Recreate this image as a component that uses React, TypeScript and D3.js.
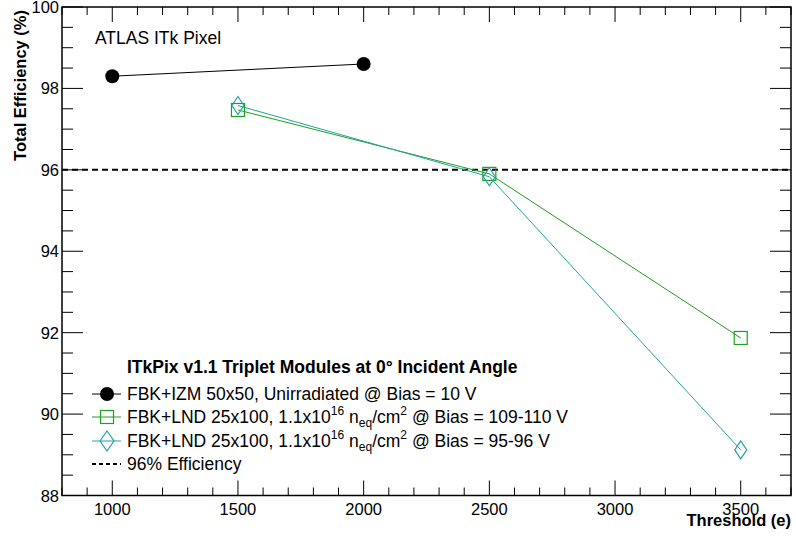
import React from "react";
import * as d3 from "d3";

const izmX = [1000, 2000];
const izmY = [98.3, 98.6];
const lnd110X = [1500, 2500, 3500];
const lnd110Y = [97.47, 95.9, 91.87];
const lnd96X = [1500, 2500, 3500];
const lnd96Y = [97.58, 95.83, 89.12];
const xTicks = [1000, 1500, 2000, 2500, 3000, 3500];
const yTicks = [88, 90, 92, 94, 96, 98, 100];
const refLine = 96;

const W = 796, H = 538;
const L = 62, R = 791, T = 7, B = 495.5;
const FONT = "Liberation Sans, Arial, Helvetica, sans-serif";
const GREEN = "#1f9f1f";
const CYAN = "#20a2a6";

export default function App() {
  const x = d3.scaleLinear().domain([800, 3700]).range([L, R]);
  const y = d3.scaleLinear().domain([88, 100]).range([B, T]);
  const line = d3.line<[number, number]>().x(d => x(d[0])).y(d => y(d[1]));
  const xMinor = d3.range(800, 3701, 100);
  const yMinor = d3.range(88, 100.01, 0.5);
  const diamond = (cx: number, cy: number, w = 6, h = 9) =>
    `M${cx},${cy - h}L${cx + w},${cy}L${cx},${cy + h}L${cx - w},${cy}Z`;

  const legX = 92, legMid = 107, legEnd = 121, legText = 127;
  const legRows = [394, 417, 441, 464];
  const LF = 17.5;

  return (
    <svg width={W} height={H} style={{ position: "absolute", left: 0, top: 0, background: "#fff" }} fontFamily={FONT}>
      <rect x={0} y={0} width={W} height={H} fill="#fff" />
      {/* ticks */}
      {xMinor.map(v => {
        const major = v % 500 === 0;
        const len = major ? 15 : 8;
        return (
          <g key={"xt" + v} stroke="#000" strokeWidth={1}>
            <line x1={x(v)} x2={x(v)} y1={B} y2={B - len} />
            <line x1={x(v)} x2={x(v)} y1={T} y2={T + len} />
          </g>
        );
      })}
      {yMinor.map(v => {
        const major = Math.abs(v % 2) < 1e-6;
        const len = major ? 21 : 11;
        return (
          <g key={"yt" + v} stroke="#000" strokeWidth={1}>
            <line x1={L} x2={L + len} y1={y(v)} y2={y(v)} />
            <line x1={R} x2={R - len} y1={y(v)} y2={y(v)} />
          </g>
        );
      })}
      {/* reference line */}
      <line x1={L} x2={R} y1={y(refLine)} y2={y(refLine)} stroke="#000" strokeWidth={2} strokeDasharray="6,4" />
      {/* series lines */}
      <path d={line(izmX.map((v, i) => [v, izmY[i]]) as any) || ""} fill="none" stroke="#000" strokeWidth={1} />
      <path d={line(lnd110X.map((v, i) => [v, lnd110Y[i]]) as any) || ""} fill="none" stroke={GREEN} strokeWidth={1} />
      <path d={line(lnd96X.map((v, i) => [v, lnd96Y[i]]) as any) || ""} fill="none" stroke={CYAN} strokeWidth={1} />
      {/* markers */}
      {izmX.map((v, i) => (
        <circle key={"c" + i} cx={x(v)} cy={y(izmY[i])} r={7} fill="#000" />
      ))}
      {lnd110X.map((v, i) => (
        <rect key={"s" + i} x={x(v) - 6.5} y={y(lnd110Y[i]) - 6.5} width={13} height={13} fill="none" stroke={GREEN} strokeWidth={1.2} />
      ))}
      {lnd96X.map((v, i) => (
        <path key={"d" + i} d={diamond(x(v), y(lnd96Y[i]))} fill="none" stroke={CYAN} strokeWidth={1.2} />
      ))}
      {/* frame */}
      <rect x={L} y={T} width={R - L} height={B - T} fill="none" stroke="#000" strokeWidth={1.5} />
      {/* tick labels */}
      {xTicks.map(v => (
        <text key={"xl" + v} x={x(v)} y={B + 19} fontSize={16.5} textAnchor="middle">{v}</text>
      ))}
      {yTicks.map(v => (
        <text key={"yl" + v} x={L - 3} y={y(v) + 6} fontSize={16.5} textAnchor="end">{v}</text>
      ))}
      {/* axis titles */}
      <text x={R} y={526} fontSize={16.5} fontWeight="bold" textAnchor="end">Threshold (e)</text>
      <text transform={`translate(26,${T + 3}) rotate(-90)`} fontSize={16.5} fontWeight="bold" textAnchor="end">Total Efficiency (%)</text>
      {/* ATLAS label */}
      <text x={95} y={44} fontSize={LF}>ATLAS ITk Pixel</text>
      {/* legend */}
      <text x={legText} y={373} fontSize={LF} fontWeight="bold">ITkPix v1.1 Triplet Modules at 0° Incident Angle</text>
      <line x1={legX} x2={legEnd} y1={legRows[0]} y2={legRows[0]} stroke="#000" />
      <circle cx={legMid} cy={legRows[0]} r={7} fill="#000" />
      <text x={legText} y={legRows[0] + 6} fontSize={LF}>FBK+IZM 50x50, Unirradiated @ Bias = 10 V</text>
      <line x1={legX} x2={legEnd} y1={legRows[1]} y2={legRows[1]} stroke={GREEN} />
      <rect x={legMid - 6.5} y={legRows[1] - 6.5} width={13} height={13} fill="none" stroke={GREEN} strokeWidth={1.2} />
      <text x={legText} y={legRows[1] + 6} fontSize={LF}>
        FBK+LND 25x100, 1.1x10<tspan dy={-8} fontSize={12}>16</tspan>
        <tspan dy={8}> n</tspan><tspan dy={4} fontSize={12}>eq</tspan>
        <tspan dy={-4}>/cm</tspan><tspan dy={-8} fontSize={12}>2</tspan>
        <tspan dy={8}> @ Bias = 109-110 V</tspan>
      </text>
      <line x1={legX} x2={legEnd} y1={legRows[2]} y2={legRows[2]} stroke={CYAN} />
      <path d={diamond(legMid, legRows[2], 7, 10)} fill="none" stroke={CYAN} strokeWidth={1.2} />
      <text x={legText} y={legRows[2] + 6} fontSize={LF}>
        FBK+LND 25x100, 1.1x10<tspan dy={-8} fontSize={12}>16</tspan>
        <tspan dy={8}> n</tspan><tspan dy={4} fontSize={12}>eq</tspan>
        <tspan dy={-4}>/cm</tspan><tspan dy={-8} fontSize={12}>2</tspan>
        <tspan dy={8}> @ Bias = 95-96 V</tspan>
      </text>
      <line x1={legX} x2={legEnd} y1={legRows[3]} y2={legRows[3]} stroke="#000" strokeWidth={2} strokeDasharray="4,3" />
      <text x={legText} y={legRows[3] + 6} fontSize={LF}>96% Efficiency</text>
    </svg>
  );
}
